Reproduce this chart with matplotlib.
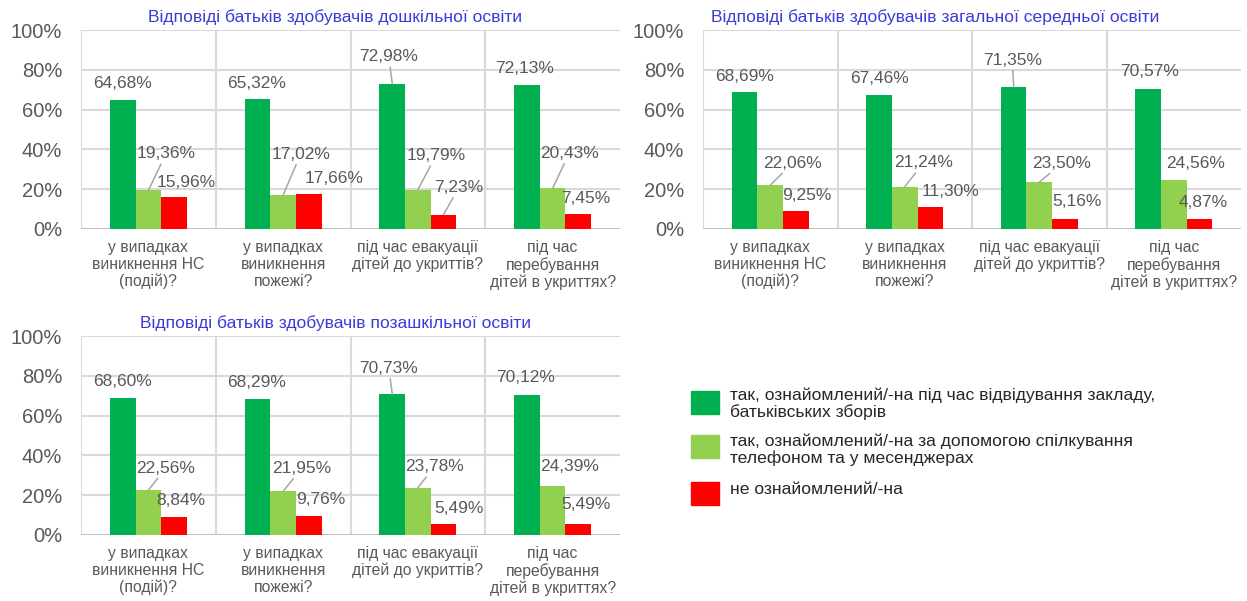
import numpy as np
import matplotlib
matplotlib.use('Agg')
import matplotlib.pyplot as plt
from matplotlib.patches import Rectangle

plt.rcParams['font.family'] = ['Liberation Sans', 'DejaVu Sans']

categories = ['у випадках\nвиникнення НС\n(подій)?',
              'у випадках\nвиникнення\nпожежі?',
              'під час евакуації\nдітей до укриттів?',
              'під час\nперебування\nдітей в укриттях?']
series_names = ['так, ознайомлений/-на під час відвідування закладу,\nбатьківських зборів',
                'так, ознайомлений/-на за допомогою спілкування\nтелефоном та у месенджерах',
                'не ознайомлений/-на']
colors = ['#00B050', '#92D050', '#FF0000']

titles = ['Відповіді батьків здобувачів дошкільної освіти',
          'Відповіді батьків здобувачів загальної середньої освіти',
          'Відповіді батьків здобувачів позашкільної освіти']

preschool_visit = [64.68, 65.32, 72.98, 72.13]
preschool_phone = [19.36, 17.02, 19.79, 20.43]
preschool_no = [15.96, 17.66, 7.23, 7.45]

secondary_visit = [68.69, 67.46, 71.35, 70.57]
secondary_phone = [22.06, 21.24, 23.50, 24.56]
secondary_no = [9.25, 11.30, 5.16, 4.87]

extra_visit = [68.60, 68.29, 70.73, 70.12]
extra_phone = [22.56, 21.95, 23.78, 24.39]
extra_no = [8.84, 9.76, 5.49, 5.49]

# label offsets (pixels from bar top) and leader lines, as moved in the original
offs_pre = [[(-0.5, 17), (-1, 16), (-3.5, 27), (-2, 16.5)],
            [(17.5, 36.5), (17.5, 41), (18, 34), (16.5, 35)],
            [(12.5, 15), (25.5, 15), (15.5, 27), (8, 16)]]
lead_pre = [[0, 0, 1, 0], [1, 1, 1, 1], [0, 0, 1, 0]]
offs_sec = [[(0, 16), (0, 16), (-1.5, 27), (1, 17)],
            [(22.5, 22), (19, 24), (22.5, 19), (22, 17)],
            [(11.5, 15), (20, 15), (12.5, 17), (3.5, 17)]]
lead_sec = [[0, 0, 1, 0], [1, 1, 1, 0], [0, 0, 0, 0]]
offs_ext = [[(0, 16.5), (-1, 17), (-3.5, 26), (-1.5, 17.5)],
            [(17.5, 22), (18.5, 23), (16.5, 21), (16.5, 20)],
            [(7, 16.5), (12.5, 15.6), (15.5, 16), (8, 20)]]
lead_ext = [[0, 0, 1, 0], [1, 1, 1, 0], [0, 0, 0, 0]]

W, H = 1247, 601
GRAY = '#595959'
fig = plt.figure(figsize=(W / 100, H / 100), dpi=100)


def px_rect(left, top, right, bottom):
    return [left / W, 1 - bottom / H, (right - left) / W, (bottom - top) / H]


def fmt(v):
    return f'{v:.2f}'.replace('.', ',') + '%'


def panel(rect, title, tx, ty, series, offs, leads):
    ax = fig.add_axes(px_rect(*rect))
    x = np.arange(len(categories))
    bw = 0.19
    for i, vals in enumerate(series):
        xs = x + (i - 1) * bw
        ax.bar(xs, vals, width=bw, color=colors[i], zorder=3)
        for j, v in enumerate(vals):
            props = None
            if leads[i][j]:
                props = dict(arrowstyle='-', color='#A6A6A6', lw=1.1, shrinkA=0, shrinkB=0)
            ax.annotate(fmt(v), xy=(xs[j], v), xytext=offs[i][j], textcoords='offset pixels',
                        ha='center', va='center', fontsize=12.5, color=GRAY,
                        arrowprops=props, zorder=4)
    ax.set_xlim(-0.5, 3.5)
    ax.set_ylim(0, 100)
    ax.set_yticks(range(0, 101, 20))
    ax.set_yticklabels([f'{t}%' for t in range(0, 101, 20)])
    ax.grid(axis='y', color='#D9D9D9', lw=1.5, zorder=0)
    ax.vlines([-0.5, 0.5, 1.5, 2.5], 0, 100, color='#D9D9D9', lw=1.5, zorder=0)
    ax.axhline(0, color='#BFBFBF', lw=2, zorder=2)
    for s in ax.spines.values():
        s.set_visible(False)
    ax.set_xticks(x)
    ax.set_xticklabels(categories, fontsize=11.3, color=GRAY, linespacing=1.15)
    ax.tick_params(axis='x', length=0, pad=8)
    ax.tick_params(axis='y', length=0, pad=13.5, labelsize=14.5, labelcolor=GRAY)
    fig.text(tx / W, 1 - ty / H, title, ha='center', va='center', fontsize=12.6, color='#3B3BD9')
    return ax


panel((81, 30, 620, 229), titles[0], 335, 17,
      [preschool_visit, preschool_phone, preschool_no], offs_pre, lead_pre)
panel((703, 30, 1241, 229), titles[1], 935, 17,
      [secondary_visit, secondary_phone, secondary_no], offs_sec, lead_sec)
panel((81, 336, 620, 535), titles[2], 336, 323,
      [extra_visit, extra_phone, extra_no], offs_ext, lead_ext)

# legend
patch_tops = [391, 435, 482]
text_centers = [404, 450, 489]
for name, col, top, tc in zip(series_names, colors, patch_tops, text_centers):
    fig.add_artist(Rectangle((691 / W, 1 - (top + 23) / H), 28 / W, 23 / H,
                             transform=fig.transFigure, color=col))
    fig.text(730 / W, 1 - tc / H, name, ha='left', va='center', fontsize=12.6,
             color='#262626', linespacing=1.1)

fig.savefig('out.png', dpi=100)
